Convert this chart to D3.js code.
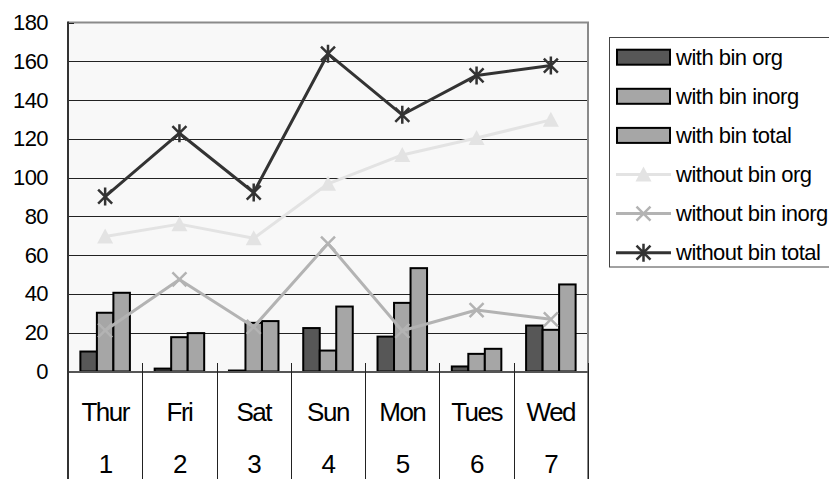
<!DOCTYPE html>
<html>
<head>
<meta charset="utf-8">
<script src="https://cdn.jsdelivr.net/npm/d3@7/dist/d3.min.js"></script>
<style>
  html, body { margin: 0; padding: 0; background: #ffffff; overflow: hidden; }
  svg { display: block; }
  text { font-family: "Liberation Sans", Arial, sans-serif; fill: #000; }
</style>
</head>
<body>
<svg id="chart" width="829" height="479"></svg>
<script>
const categories = ["Thur", "Fri", "Sat", "Sun", "Mon", "Tues", "Wed"];
const dayNumbers = ["1", "2", "3", "4", "5", "6", "7"];
const yTicks = [0, 20, 40, 60, 80, 100, 120, 140, 160, 180];

const withBinOrg   = [10.3, 1.5, 0.5, 22.4, 18.0, 2.6, 23.7];
const withBinInorg = [30.3, 17.7, 25.1, 10.8, 35.4, 9.1, 21.5];
const withBinTotal = [40.6, 19.8, 26.0, 33.5, 53.3, 11.7, 44.9];

const withoutBinOrg   = [69.6, 76.0, 68.7, 96.8, 111.7, 120.4, 129.8];
const withoutBinInorg = [21.2, 47.5, 23.0, 66.0, 21.0, 31.7, 26.9];
const withoutBinTotal = [90.2, 122.9, 92.3, 163.9, 132.4, 152.7, 157.8];

const barSeries = [
  { name: "with bin org",   values: withBinOrg,   fill: "#575757" },
  { name: "with bin inorg", values: withBinInorg, fill: "#a6a6a6" },
  { name: "with bin total", values: withBinTotal, fill: "#a6a6a6" }
];
const lineSeries = [
  { name: "without bin org",   values: withoutBinOrg,   color: "#e3e3e3", marker: "triangle" },
  { name: "without bin inorg", values: withoutBinInorg, color: "#b3b3b3", marker: "x" },
  { name: "without bin total", values: withoutBinTotal, color: "#333333", marker: "star" }
];

const svg = d3.select("#chart");
const pLeft = 68, pRight = 588, pTop = 22.5, pBottom = 371.5;

const x = d3.scaleBand().domain(categories).range([pLeft, pRight]).paddingInner(0).paddingOuter(0);
const xs = d3.scaleBand().domain(d3.range(barSeries.length)).range([0, x.bandwidth()])
  .paddingInner(0).paddingOuter(0.75);
const y = d3.scaleLinear().domain([0, 180]).range([pBottom, pTop]);

// plot background
svg.append("rect").attr("x", pLeft).attr("y", pTop).attr("width", pRight - pLeft).attr("height", pBottom - pTop)
  .attr("fill", "#f8f8f8");

// gridlines
svg.append("g").selectAll("line").data(yTicks.filter(d => d > 0 && d < 180)).join("line")
  .attr("x1", pLeft).attr("x2", pRight)
  .attr("y1", d => Math.round(y(d)) + 0.5).attr("y2", d => Math.round(y(d)) + 0.5)
  .attr("stroke", "#222").attr("stroke-width", 1);

// top & right border (gray)
svg.append("path")
  .attr("d", `M${pLeft},${pTop} H${pRight} V479`)
  .attr("fill", "none").attr("stroke", "#8a8a8a").attr("stroke-width", 2);

// y axis
const yAxis = d3.axisLeft(y).tickValues(yTicks).tickSize(0).tickPadding(20);
const gy = svg.append("g").attr("transform", `translate(${pLeft},0)`).call(yAxis);
gy.select(".domain").remove();
gy.selectAll("text").attr("font-size", 22).attr("font-family", "Liberation Sans, Arial, sans-serif")
  .attr("fill", "#000").attr("letter-spacing", -0.6);
svg.append("g").selectAll("line").data(yTicks).join("line")
  .attr("x1", pLeft).attr("x2", pLeft + 6)
  .attr("y1", d => Math.round(y(d)) + 0.5).attr("y2", d => Math.round(y(d)) + 0.5)
  .attr("stroke", "#222");

// bars
const groups = svg.append("g").selectAll("g").data(barSeries).join("g");
groups.each(function(s, si) {
  d3.select(this).selectAll("rect").data(s.values).join("rect")
    .attr("x", (d, i) => x(categories[i]) + xs(si))
    .attr("y", d => y(d))
    .attr("width", xs.bandwidth())
    .attr("height", d => pBottom - y(d))
    .attr("fill", s.fill)
    .attr("stroke", "#000").attr("stroke-width", 2);
});

// x axis baseline
svg.append("line").attr("x1", pLeft).attr("x2", pRight).attr("y1", pBottom + 0.5).attr("y2", pBottom + 0.5)
  .attr("stroke", "#555").attr("stroke-width", 2);

// category separators
const seps = categories.map(c => x(c)).concat([pRight]);
svg.append("g").selectAll("line").data(seps.slice(1)).join("line")
  .attr("x1", d => Math.round(d) + 0.5).attr("x2", d => Math.round(d) + 0.5)
  .attr("y1", 363).attr("y2", 479)
  .attr("stroke", "#222").attr("stroke-width", 1);

// left axis line
svg.append("line").attr("x1", pLeft).attr("x2", pLeft).attr("y1", pTop - 1).attr("y2", 479)
  .attr("stroke", "#333").attr("stroke-width", 2);

// category labels
const cx = c => x(c) + x.bandwidth() / 2;
svg.append("g").selectAll("text").data(categories).join("text")
  .attr("x", d => cx(d)).attr("y", 421)
  .attr("text-anchor", "middle").attr("font-size", 26).attr("letter-spacing", -1.5)
  .text(d => d);
svg.append("g").selectAll("text").data(dayNumbers).join("text")
  .attr("x", (d, i) => cx(categories[i])).attr("y", 473)
  .attr("text-anchor", "middle").attr("font-size", 26).attr("letter-spacing", -1.5)
  .text(d => d);

// markers
function drawMarker(g, type, px, py, color) {
  if (type === "triangle") {
    g.append("path").attr("d", `M${px},${py - 8} L${px + 8},${py + 7} L${px - 8},${py + 7} Z`)
      .attr("fill", color);
  } else if (type === "x") {
    g.append("path").attr("d", `M${px - 7},${py - 7} L${px + 7},${py + 7} M${px - 7},${py + 7} L${px + 7},${py - 7}`)
      .attr("stroke", color).attr("stroke-width", 2.5).attr("fill", "none");
  } else {
    g.append("path").attr("d", `M${px - 7},${py - 7} L${px + 7},${py + 7} M${px - 7},${py + 7} L${px + 7},${py - 7} M${px},${py - 9} L${px},${py + 9}`)
      .attr("stroke", color).attr("stroke-width", 2.5).attr("fill", "none");
  }
}

const line = d3.line().x((d, i) => cx(categories[i])).y(d => y(d));
lineSeries.forEach(s => {
  const g = svg.append("g");
  g.append("path").datum(s.values).attr("d", line)
    .attr("fill", "none").attr("stroke", s.color).attr("stroke-width", 3).attr("stroke-linejoin", "round");
  s.values.forEach((v, i) => drawMarker(g, s.marker, cx(categories[i]), y(v), s.color));
});

// legend
const lg = svg.append("g");
lg.append("rect").attr("x", 609.5).attr("y", 37.5).attr("width", 240).attr("height", 229.5)
  .attr("fill", "#fff").attr("stroke", "#444").attr("stroke-width", 1);
const legendItems = barSeries.map(s => ({ name: s.name, kind: "bar", s }))
  .concat(lineSeries.map(s => ({ name: s.name, kind: "line", s })));
legendItems.forEach((it, i) => {
  const cy = 57.2 + i * 39.1;
  if (it.kind === "bar") {
    lg.append("rect").attr("x", 617).attr("y", cy - 7.5).attr("width", 53).attr("height", 15)
      .attr("fill", it.s.fill).attr("stroke", "#000").attr("stroke-width", 2);
  } else {
    lg.append("line").attr("x1", 616).attr("x2", 671).attr("y1", cy).attr("y2", cy)
      .attr("stroke", it.s.color).attr("stroke-width", 3);
    drawMarker(lg, it.s.marker, 643.5, cy, it.s.color);
  }
  lg.append("text").attr("x", 676).attr("y", cy + 7.5).attr("font-size", 22).attr("letter-spacing", -0.5)
    .text(it.name);
});
</script>
</body>
</html>
